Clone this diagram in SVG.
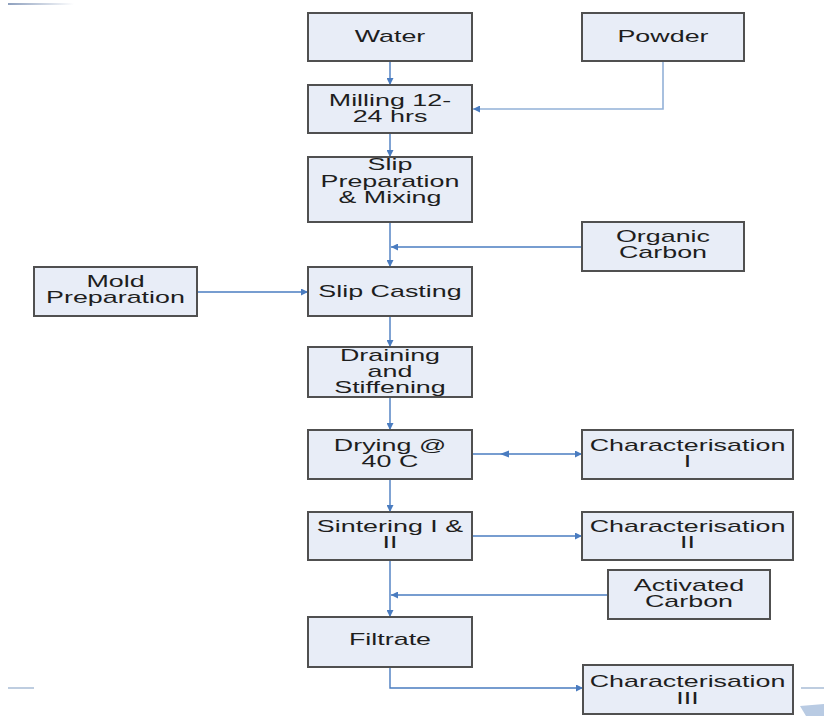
<svg xmlns="http://www.w3.org/2000/svg" width="824" height="716" viewBox="0 0 824 716">
  <defs>
    <style>
      .box { fill: #e8edf7; stroke: #505050; stroke-width: 2; }
      .lbl { font-family: "Liberation Sans", Arial, sans-serif; font-size: 16px; fill: #1e1e1e; text-anchor: middle; }
      .wire { fill: none; stroke: #4a7cc0; stroke-width: 1.4; }
      .wire-light { fill: none; stroke: #93b1d8; stroke-width: 1.6; }
      .head { fill: #4a7cc0; }
      .edge { stroke: #a9bcd6; stroke-width: 1.5; }
    </style>
    <marker id="arrow" viewBox="0 0 10 10" refX="10" refY="5" markerWidth="8" markerHeight="7" markerUnits="userSpaceOnUse" orient="auto">
      <path d="M0,0 L10,5 L0,10 z" class="head"/>
    </marker>
    <linearGradient id="fade" x1="0" x2="1" y1="0" y2="0">
      <stop offset="0" stop-color="#8ea0be"/>
      <stop offset="1" stop-color="#8ea0be" stop-opacity="0"/>
    </linearGradient>
  </defs>

  <rect width="824" height="716" fill="#ffffff"/>

  <!-- page edge marks -->
  <rect x="8" y="3" width="66" height="2" fill="url(#fade)"/>
  <line class="edge" x1="8" y1="688" x2="34" y2="688"/>
  <line class="edge" x1="801" y1="688" x2="824" y2="688"/>
  <path d="M800,706 L824,704 L824,716 L806,716 z" fill="#b9cbe3"/>

  <!-- connectors -->
  <g id="connectors">
    <line class="wire" x1="390" y1="61" x2="390" y2="85" marker-end="url(#arrow)"/>
    <path class="wire-light" d="M663,61 V109 H473" marker-end="url(#arrow)"/>
    <line class="wire" x1="390" y1="133" x2="390" y2="157" marker-end="url(#arrow)"/>
    <line class="wire" x1="390" y1="222" x2="390" y2="267" marker-end="url(#arrow)"/>
    <line class="wire" x1="582" y1="247" x2="391" y2="247" marker-end="url(#arrow)"/>
    <line class="wire" x1="197" y1="292" x2="308" y2="292" marker-end="url(#arrow)"/>
    <line class="wire" x1="390" y1="316" x2="390" y2="347" marker-end="url(#arrow)"/>
    <line class="wire" x1="390" y1="397" x2="390" y2="430" marker-end="url(#arrow)"/>
    <line class="wire" x1="472" y1="454" x2="582" y2="454" marker-end="url(#arrow)"/>
    <path class="head" d="M500,454 L509,450.5 L509,457.5 z"/>
    <line class="wire" x1="390" y1="479" x2="390" y2="512" marker-end="url(#arrow)"/>
    <line class="wire" x1="472" y1="536" x2="582" y2="536" marker-end="url(#arrow)"/>
    <line class="wire" x1="390" y1="560" x2="390" y2="617" marker-end="url(#arrow)"/>
    <line class="wire" x1="608" y1="595" x2="391" y2="595" marker-end="url(#arrow)"/>
    <path class="wire" d="M390,667 V688 H583" marker-end="url(#arrow)"/>
  </g>

  <!-- nodes (labels drawn with a horizontal stretch of 1.68) -->
  <g id="water">
    <rect class="box" x="308" y="13" width="164" height="48"/>
    <text class="lbl" transform="scale(1.68,1)" x="232.14" y="42">Water</text>
  </g>
  <g id="powder">
    <rect class="box" x="582" y="13" width="162" height="48"/>
    <text class="lbl" transform="scale(1.68,1)" x="394.64" y="42">Powder</text>
  </g>
  <g id="milling">
    <rect class="box" x="308" y="85" width="164" height="48"/>
    <text class="lbl" transform="scale(1.68,1)" x="232.14" y="106">Milling 12-</text>
    <text class="lbl" transform="scale(1.68,1)" x="232.14" y="122">24 hrs</text>
  </g>
  <g id="slip-preparation">
    <rect class="box" x="308" y="157" width="164" height="65"/>
    <text class="lbl" transform="scale(1.68,1)" x="232.14" y="170.5">Slip</text>
    <text class="lbl" transform="scale(1.68,1)" x="232.14" y="187">Preparation</text>
    <text class="lbl" transform="scale(1.68,1)" x="232.14" y="203.5">&amp; Mixing</text>
  </g>
  <g id="organic-carbon">
    <rect class="box" x="582" y="222" width="162" height="49"/>
    <text class="lbl" transform="scale(1.68,1)" x="394.64" y="242">Organic</text>
    <text class="lbl" transform="scale(1.68,1)" x="394.64" y="258">Carbon</text>
  </g>
  <g id="mold-preparation">
    <rect class="box" x="34" y="267" width="163" height="49"/>
    <text class="lbl" transform="scale(1.68,1)" x="68.75" y="287">Mold</text>
    <text class="lbl" transform="scale(1.68,1)" x="68.75" y="303">Preparation</text>
  </g>
  <g id="slip-casting">
    <rect class="box" x="308" y="267" width="164" height="49"/>
    <text class="lbl" transform="scale(1.68,1)" x="232.14" y="297">Slip Casting</text>
  </g>
  <g id="draining">
    <rect class="box" x="308" y="347" width="164" height="50"/>
    <text class="lbl" transform="scale(1.68,1)" x="232.14" y="361">Draining</text>
    <text class="lbl" transform="scale(1.68,1)" x="232.14" y="377">and</text>
    <text class="lbl" transform="scale(1.68,1)" x="232.14" y="393">Stiffening</text>
  </g>
  <g id="drying">
    <rect class="box" x="308" y="430" width="164" height="49"/>
    <text class="lbl" transform="scale(1.68,1)" x="232.14" y="451">Drying @</text>
    <text class="lbl" transform="scale(1.68,1)" x="232.14" y="467">40 C</text>
  </g>
  <g id="characterisation-1">
    <rect class="box" x="582" y="430" width="211" height="49"/>
    <text class="lbl" transform="scale(1.68,1)" x="409.23" y="451">Characterisation</text>
    <text class="lbl" transform="scale(1.68,1)" x="409.23" y="467">I</text>
  </g>
  <g id="sintering">
    <rect class="box" x="308" y="512" width="164" height="48"/>
    <text class="lbl" transform="scale(1.68,1)" x="232.14" y="532">Sintering I &amp;</text>
    <text class="lbl" transform="scale(1.68,1)" x="232.14" y="548">II</text>
  </g>
  <g id="characterisation-2">
    <rect class="box" x="582" y="512" width="211" height="48"/>
    <text class="lbl" transform="scale(1.68,1)" x="409.23" y="532">Characterisation</text>
    <text class="lbl" transform="scale(1.68,1)" x="409.23" y="548">II</text>
  </g>
  <g id="activated-carbon">
    <rect class="box" x="608" y="570" width="162" height="49"/>
    <text class="lbl" transform="scale(1.68,1)" x="410.12" y="591">Activated</text>
    <text class="lbl" transform="scale(1.68,1)" x="410.12" y="607">Carbon</text>
  </g>
  <g id="filtrate">
    <rect class="box" x="308" y="617" width="164" height="50"/>
    <text class="lbl" transform="scale(1.68,1)" x="232.14" y="645">Filtrate</text>
  </g>
  <g id="characterisation-3">
    <rect class="box" x="583" y="665" width="210" height="49"/>
    <text class="lbl" transform="scale(1.68,1)" x="409.23" y="687">Characterisation</text>
    <text class="lbl" transform="scale(1.68,1)" x="409.23" y="704">III</text>
  </g>
</svg>
